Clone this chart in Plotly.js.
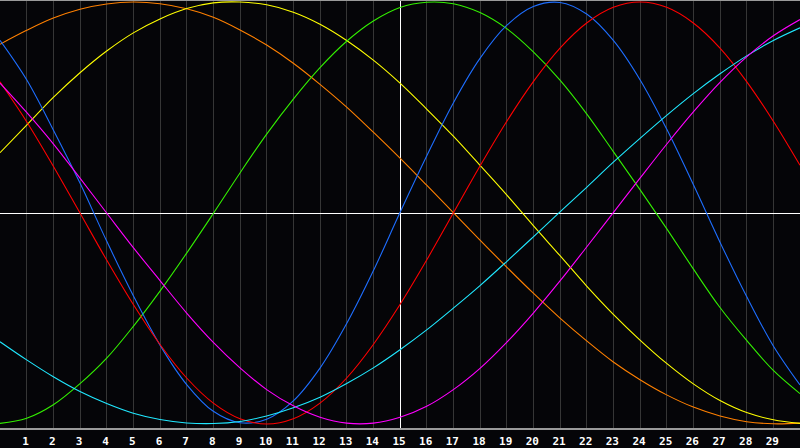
<!DOCTYPE html>
<html>
<head>
<meta charset="utf-8">
<script src="https://cdn.plot.ly/plotly-3.0.1.min.js"></script>
<style>
  html, body { margin: 0; padding: 0; background: #050508; }
  #chart { width: 800px; height: 448px; }
</style>
</head>
<body>
<div id="chart"></div>
<script>
// Biorhythm-style chart, values in percent at each day

const days = [0,1,2,3,4,5,6,7,8,9,10,11,12,13,14,15,16,17,18,19,20,21,22,23,24,25,26,27,28,29,30];
const tickDays = [1,2,3,4,5,6,7,8,9,10,11,12,13,14,15,16,17,18,19,20,21,22,23,24,25,26,27,28,29];
const today = 15;

const orangeVals  = [80,86.6,92.4,96.6,99.1,100,99.2,96.8,92.8,86.8,79.6,71,61,50.2,38.3,26,13.2,0.2,-12.8,-25.6,-38,-49.8,-60.6,-70.6,-79,-86.2,-92,-96.2,-98.9,-99.9,-99.6];
const yellowVals  = [28.6,41.7,54.8,66.5,76.8,85.4,92,96.9,99.6,100,98.7,95.2,89.5,81.8,72.5,61.6,49.3,36.4,22.6,8.6,-6,-20.2,-34.6,-48,-60.2,-71.3,-81,-88.9,-94.6,-98,-99.7];
const greenVals   = [-99.7,-97.3,-90.9,-80.9,-68.8,-53.7,-37,-19,-0.2,19,37.4,54,68.9,81.4,91,97.4,99.9,99.2,95,87.4,76.4,63,47,29.1,11.1,-7.4,-26.5,-44.8,-60.4,-74.6,-85.6];
const blueVals    = [81.9,63.2,39.4,14.2,-13.3,-39.2,-62.6,-81.3,-94,-99.4,-97.7,-89,-73.5,-52.4,-27.4,0.2,27,52.2,73.3,88.9,97.9,99.8,94.3,81.8,63.2,39.8,13.5,-13.8,-39.6,-63,-81.5];
const redVals     = [62.2,43.3,22.2,0,-22.3,-43.4,-62.3,-78.2,-90.1,-97.5,-100,-97.5,-90.1,-78.2,-62.3,-43.4,-22.3,0,22.3,43.4,62.3,78.2,90.1,97.5,100,97.5,90.1,78.2,62.3,43.5,22.6];
const cyanVals    = [-61,-69.6,-77.6,-84.6,-90.3,-94.9,-97.9,-99.5,-99.8,-98.8,-96.2,-92.3,-87.3,-80.8,-73.4,-64.8,-55.4,-45.1,-34.4,-23,-11.3,0.5,12.2,24.1,35.4,46.3,56.6,66,74.5,81.8,87.8];
const magentaVals = [61.6,47.7,32.8,16.5,0,-16.4,-32,-47.4,-61.3,-73.4,-83.7,-91.4,-96.8,-99.6,-99.6,-96.8,-91.6,-83.7,-73.6,-61.3,-47.4,-32.2,-16.1,0.2,16.5,32.6,47.9,61.9,74,84,91.7];

const series = [
  { y: orangeVals,  color: '#ff8000' },
  { y: yellowVals,  color: '#ffff00' },
  { y: greenVals,   color: '#33f000' },
  { y: blueVals,    color: '#1e6eff' },
  { y: redVals,     color: '#ff0000' },
  { y: cyanVals,    color: '#20e8ff' },
  { y: magentaVals, color: '#ff00ff' }
];

const traces = series.map(s => ({
  type: 'scatter', mode: 'lines', x: days, y: s.y,
  line: { color: s.color, width: 1.1, shape: 'spline', smoothing: 1 },
  hoverinfo: 'skip'
}));

// invisible carrier so the overlay axis (white "today" line) gets drawn
traces.unshift({
  type: 'scatter', mode: 'lines', x: [today], y: [0], xaxis: 'x2',
  line: { width: 0 }, hoverinfo: 'skip'
});

const frame = { showline: true, mirror: true, linecolor: '#9a9a9a', linewidth: 2 };

const layout = {
  width: 800, height: 448,
  margin: { t: 1, r: 0, b: 20, l: 0 },
  paper_bgcolor: '#050508', plot_bgcolor: '#050508',
  showlegend: false,
  xaxis: Object.assign({
    range: [0, 30], tickvals: tickDays, ticks: '',
    showgrid: true, gridcolor: '#363636', gridwidth: 1, zeroline: false,
    tickfont: { family: 'DejaVu Sans Mono', size: 11, color: '#ffffff', weight: 'bold' },
    ticklabelshift: -1, ticklabelstandoff: 2
  }, frame),
  xaxis2: {
    range: [0, 30], overlaying: 'x', anchor: 'y', tickvals: [today],
    showgrid: true, gridcolor: '#ffffff', gridwidth: 1,
    showticklabels: false, ticks: '', zeroline: false, showline: false
  },
  yaxis: Object.assign({
    range: [-101.9, 100.5], showgrid: false, showticklabels: false, ticks: '',
    zeroline: true, zerolinecolor: '#ffffff', zerolinewidth: 1
  }, frame)
};

Plotly.newPlot('chart', traces, layout, { displayModeBar: false, staticPlot: true });
</script>
</body>
</html>
